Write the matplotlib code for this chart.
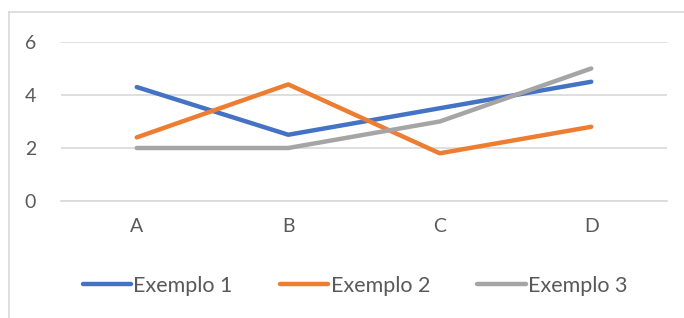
import matplotlib
matplotlib.use("Agg")
import matplotlib.pyplot as plt
from matplotlib.lines import Line2D

categories = ["A", "B", "C", "D"]
exemplo1 = [4.3, 2.5, 3.5, 4.5]
exemplo2 = [2.4, 4.4, 1.8, 2.8]
exemplo3 = [2.0, 2.0, 3.0, 5.0]
series_names = ["Exemplo 1", "Exemplo 2", "Exemplo 3"]
colors = ["#4472C4", "#ED7D31", "#A5A5A5"]
yticks = [0, 2, 4, 6]

plt.rcParams['font.family'] = ['Lato', 'DejaVu Sans']
W, H = 684, 318
fig = plt.figure(figsize=(W/100, H/100), dpi=100)
ax = fig.add_axes([61/W, 1-201/H, (667-61)/W, (201-42)/H])

x = list(range(len(categories)))
handles = []
for vals, name, c in zip([exemplo1, exemplo2, exemplo3], series_names, colors):
    h, = ax.plot(x, vals, color=c, lw=3.2, solid_capstyle='round', solid_joinstyle='round', label=name, zorder=3)
    handles.append(h)

ax.set_xlim(-0.5, 3.5)
ax.set_ylim(0, 6)
ax.set_yticks(yticks)
ax.set_xticks(x)
ax.set_xticklabels(categories)
ax.grid(axis='y', color='#D9D9D9', lw=1.2)
ax.set_axisbelow(True)
for s in ['left', 'right', 'top']:
    ax.spines[s].set_visible(False)
ax.spines['bottom'].set_color('#D9D9D9')
ax.spines['bottom'].set_linewidth(1.2)
ax.tick_params(axis='both', length=0, labelsize=14, labelcolor='#595959')
ax.tick_params(axis='y', pad=18)
ax.tick_params(axis='x', pad=12)

leg = fig.legend(handles=handles, loc='center', bbox_to_anchor=(0.519, 1-286/H), ncol=3,
                 frameon=False, fontsize=15.5, handlelength=2.25, handletextpad=0.1,
                 columnspacing=2.2, labelcolor='#595959')

# chart border (left and top visible)
fig.add_artist(Line2D([9/W, 9/W], [0, 1-12/H], color='#D9D9D9', lw=1.2, transform=fig.transFigure))
fig.add_artist(Line2D([9/W, 1], [1-12/H, 1-12/H], color='#D9D9D9', lw=1.2, transform=fig.transFigure))

fig.savefig("out.png", dpi=100)
